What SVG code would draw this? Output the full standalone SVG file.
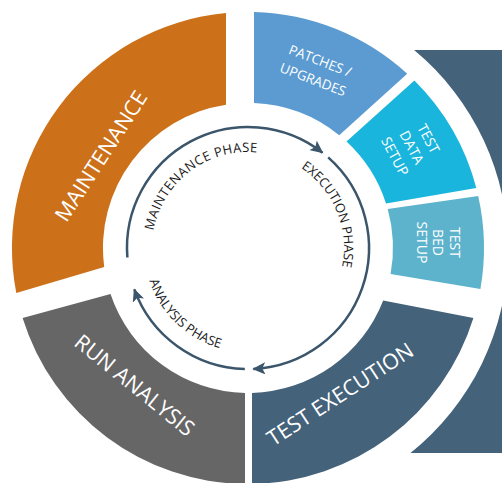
<svg xmlns="http://www.w3.org/2000/svg" width="502" height="483" viewBox="0 0 502 483">
<style>
.seg-label{font-family:"Open Sans","Noto Sans","Liberation Sans",sans-serif;fill:#ffffff;text-anchor:middle}
.big{font-size:21.5px}
.small{font-size:13.5px}
.phase{font-family:"Open Sans","Noto Sans","Liberation Sans",sans-serif;font-size:13px;fill:#1a1a1a}
.ring{fill:none;stroke:#3b556b;stroke-width:2.5}
</style>
<defs>
<marker id="arrow" markerUnits="userSpaceOnUse" markerWidth="14" markerHeight="12" refX="12" refY="6" orient="auto" viewBox="0 0 14 12">
<path d="M0,0 L13,6 L0,12 L3,6 Z" fill="#3b556b"/>
</marker>
<path id="pMaint" d="M152.72,259.7 A96,96 0 0 1 285.51,159.63"/>
<path id="pExec" d="M260.37,152.8 A96,96 0 0 1 324.26,306.32"/>
<path id="pAnal" d="M146.94,223.46 A104,104 0 0 0 277.27,347.8"/>
</defs>
<rect x="0" y="0" width="502" height="483" fill="#ffffff"/>
<g id="backdrop">
<path d="M414.1,50 H502 V453 H410.5 A260,260 0 0 0 414.1,50 Z" fill="#44627a"/>
</g>
<g id="maintenance">
<path d="M226,13 A236,236 0 0 0 16.3,293 L104.2,267 A145,145 0 0 1 226,104.7 Z" fill="#cc7119"/>
<text class="seg-label big" transform="translate(107.4,160.1) rotate(-57)">MAINTENANCE</text>
</g>
<g id="run-analysis">
<path d="M22.6,318 L110.5,294 A145,145 0 0 0 245,393 L245,484 A236,236 0 0 1 22.6,318 Z" fill="#666666"/>
<text class="seg-label big" transform="translate(129.9,391.1) rotate(39)">RUN ANALYSIS</text>
</g>
<g id="test-execution">
<path d="M252,392.9 A145,145 0 0 0 383.2,300.5 L473.4,318 A236,236 0 0 1 252,483.9 Z" fill="#44627a"/>
<text class="seg-label big" transform="translate(344.3,400.6) rotate(-33)">TEST EXECUTION</text>
</g>
<g id="test-bed-setup">
<path d="M387.7,209 L478.2,196 A236,236 0 0 1 480.4,289 L390.6,274 A145,145 0 0 0 387.7,209 Z" fill="#5db2cc"/>
<text class="seg-label" font-size="14" transform="translate(433.3,242.5) rotate(90)"><tspan x="0" y="-16.7">TEST</tspan><tspan x="0" y="0">BED</tspan><tspan x="0" y="16.7">SETUP</tspan></text>
</g>
<g id="test-data-setup">
<path d="M346.5,141.6 L414.4,80.6 A236,236 0 0 1 476.3,188.1 L386,203.4 A145,145 0 0 0 346.5,141.6 Z" fill="#1ab5dc"/>
<text class="seg-label" font-size="14" transform="translate(407.3,149.8) rotate(62)"><tspan x="0" y="-19">TEST</tspan><tspan x="0" y="0">DATA</tspan><tspan x="0" y="19">SETUP</tspan></text>
</g>
<g id="patches-upgrades">
<path d="M254,12.1 A236,236 0 0 1 407.2,73.8 L339.2,135.3 A145,145 0 0 0 254,103.1 Z" fill="#5b9bd1"/>
<text class="seg-label small" transform="translate(318.4,65.2) rotate(21)"><tspan x="0" y="0">PATCHES /</tspan><tspan x="0" y="20">UPGRADES</tspan></text>
</g>
<g id="connectors">
<path class="ring" d="M127.37,257.49 A121,121 0 0 1 322.5,152.65" marker-end="url(#arrow)"/>
<path class="ring" d="M328.17,157.37 A121,121 0 0 1 253.28,368.88" marker-end="url(#arrow)"/>
<path class="ring" d="M244.83,368.96 A121,121 0 0 1 134.3,289.38" marker-end="url(#arrow)"/>
<text class="phase" letter-spacing="0.5"><textPath href="#pMaint" startOffset="50%" text-anchor="middle">MAINTENANCE PHASE</textPath></text>
<text class="phase"><textPath href="#pExec" startOffset="50%" text-anchor="middle">EXECUTION PHASE</textPath></text>
<text class="phase"><textPath href="#pAnal" startOffset="50%" text-anchor="middle">ANALYSIS PHASE</textPath></text>
</g>
</svg>
